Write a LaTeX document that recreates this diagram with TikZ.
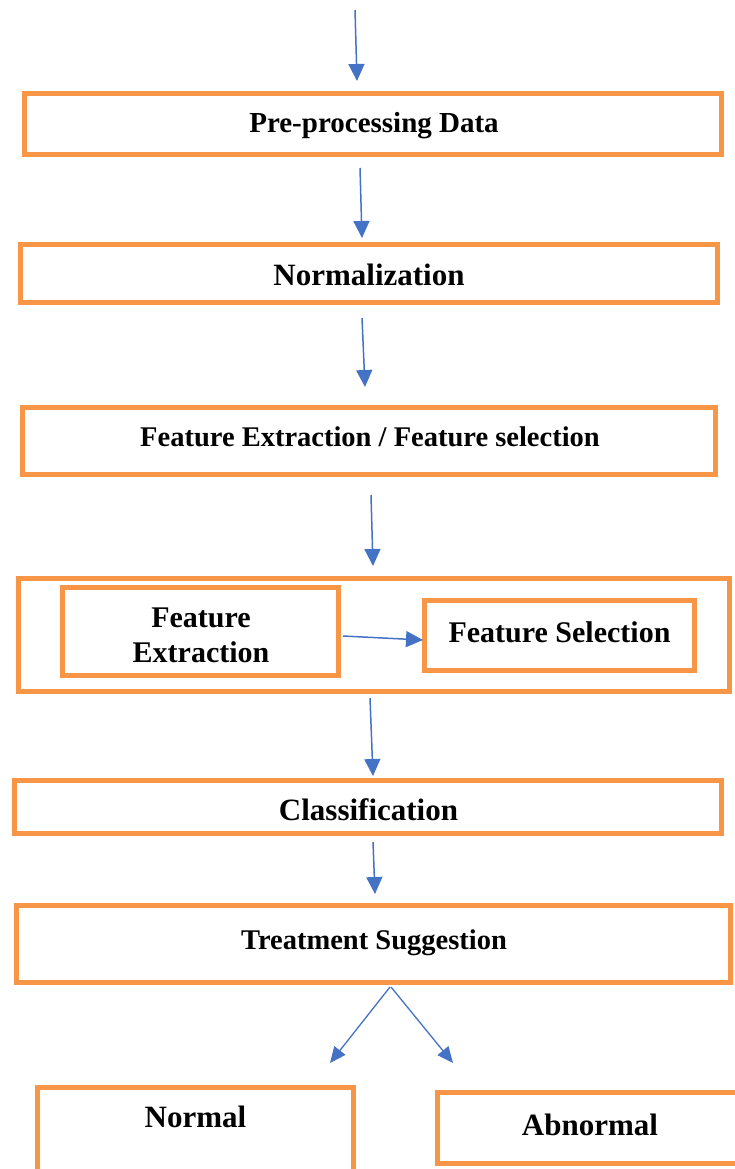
\documentclass[tikz,border=0pt]{standalone}
\usepackage{fontspec}
\setmainfont{Liberation Serif}
\usetikzlibrary{arrows.meta}
\definecolor{boxorange}{RGB}{247,150,70}
\definecolor{arrowblue}{RGB}{68,114,196}
\tikzset{
  box/.style={draw=boxorange, line width=5pt, rectangle, inner sep=0pt, fill=none},
  txt/.style={inner sep=0pt, text=black},
  arr/.style={draw=arrowblue, line width=1.5pt, -{Triangle[width=16pt,length=17pt]}},
  arrs/.style={draw=arrowblue, line width=1.3pt, -{Triangle[width=14pt,length=16pt]}}
}
\newcommand{\fs}[1]{\fontsize{#1pt}{#1pt}\selectfont\bfseries}
\begin{document}
\begin{tikzpicture}[x=1pt,y=1pt]
\useasboundingbox (0,0) rectangle (734,-1169);
% boxes
\node[box, minimum width=697, minimum height=61] (pre) at (373,-124) {};
\node[txt, font=\fs{29}] (pretxt) at (374,-126) {Pre-processing Data};
\node[box, minimum width=697, minimum height=58] (norm) at (369,-273.5) {};
\node[txt, font=\fs{31}] (normtxt) at (369,-275) {Normalization};
\node[box, minimum width=693, minimum height=67] (fefs) at (369,-441) {};
\node[txt, font=\fs{28.5}] (fefstxt) at (370,-437) {Feature Extraction / Feature selection};
\node[box, minimum width=711, minimum height=113] (outer) at (374,-635) {};
\node[box, minimum width=276, minimum height=88] (fe) at (200.5,-631.5) {};
\node[txt, font=\fs{30}, align=center] (fetxt) at (201,-635) {Feature\\[5pt]Extraction};
\node[box, minimum width=270, minimum height=70] (fsel) at (559.5,-635.5) {};
\node[txt, font=\fs{30}] (fseltxt) at (559.5,-632) {Feature Selection};
\node[box, minimum width=707, minimum height=53] (cls) at (368,-807) {};
\node[txt, font=\fs{31}] (clstxt) at (368.5,-810) {Classification};
\node[box, minimum width=714, minimum height=77] (treat) at (373.5,-944) {};
\node[txt, font=\fs{28.5}] (treattxt) at (374,-943) {Treatment Suggestion};
\node[box, minimum width=316, minimum height=102] (normal) at (195.5,-1138.5) {};
\node[txt, font=\fs{31}] (normaltxt) at (195.5,-1117) {Normal};
\node[box, minimum width=340, minimum height=71] (abn) at (607.5,-1128) {};
\node[txt, font=\fs{31}] (abntxt) at (590,-1125) {Abnormal};
% connector ends
\coordinate (s0) at (355,-10);   \coordinate (e0) at (357,-81);
\coordinate (s1) at (360,-168);  \coordinate (e1) at (362,-238);
\coordinate (s2) at (362,-318);  \coordinate (e2) at (365,-387);
\coordinate (s3) at (371,-495);  \coordinate (e3) at (373,-566);
\coordinate (s4) at (343,-636);  \coordinate (e4) at (423,-640);
\coordinate (s5) at (370,-698);  \coordinate (e5) at (373,-776);
\coordinate (s6) at (373,-842);  \coordinate (e6) at (375,-894);
\coordinate (s7) at (390,-987);  \coordinate (e7) at (330,-1063);
\coordinate (s8) at (391,-987);  \coordinate (e8) at (453,-1063);
\draw[arr] (s0) -- (e0);
\draw[arr] (s1) -- (e1);
\draw[arr] (s2) -- (e2);
\draw[arr] (s3) -- (e3);
\draw[arr] (s4) -- (e4);
\draw[arr] (s5) -- (e5);
\draw[arr] (s6) -- (e6);
\draw[arrs] (s7) -- (e7);
\draw[arrs] (s8) -- (e8);
\end{tikzpicture}
\end{document}
